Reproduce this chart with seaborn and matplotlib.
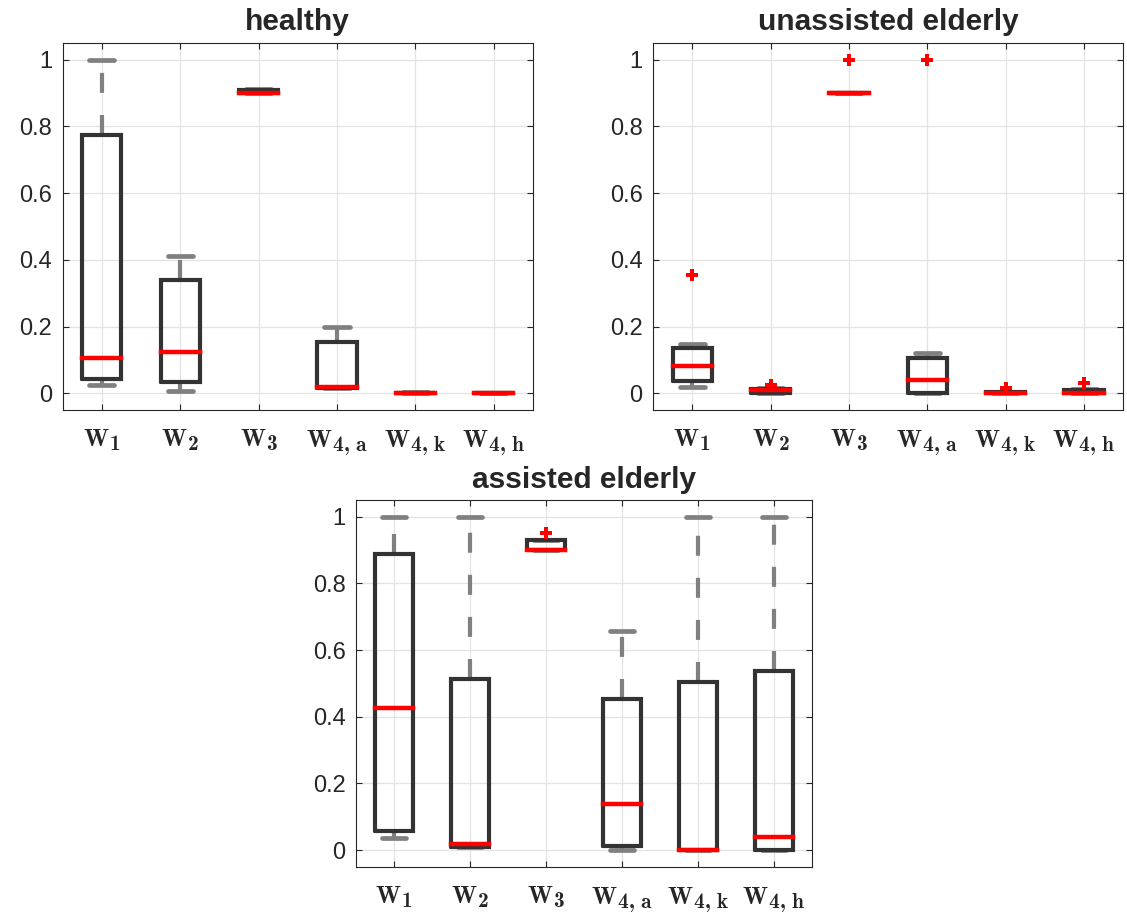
import numpy as np
import pandas as pd
import matplotlib
matplotlib.use("Agg")
import matplotlib.pyplot as plt
import matplotlib._mathtext as _mt
import seaborn as sns

# ---------------- data ----------------
categories = ["W1", "W2", "W3", "W4a", "W4k", "W4h"]
tick_labels = [r"$\mathbf{W}_{\mathbf{1}}$", r"$\mathbf{W}_{\mathbf{2}}$",
               r"$\mathbf{W}_{\mathbf{3}}$", r"$\mathbf{W}_{\mathbf{4,\,a}}$",
               r"$\mathbf{W}_{\mathbf{4,\,k}}$", r"$\mathbf{W}_{\mathbf{4,\,h}}$"]
y_ticks = [0, 0.2, 0.4, 0.6, 0.8, 1]
y_tick_labels = ["0", "0.2", "0.4", "0.6", "0.8", "1"]

# healthy: whisker low, q1, median, q3, whisker high
healthy_lo = [0.024, 0.006, 0.900, 0.017, 0.000, 0.000]
healthy_q1 = [0.044, 0.034, 0.900, 0.017, 0.000, 0.000]
healthy_med = [0.106, 0.124, 0.900, 0.020, 0.000, 0.000]
healthy_q3 = [0.775, 0.341, 0.910, 0.154, 0.002, 0.001]
healthy_hi = [1.000, 0.412, 0.912, 0.200, 0.004, 0.001]
healthy_out_cat = []
healthy_out_val = []

# unassisted elderly
unassisted_lo = [0.020, 0.000, 0.900, 0.000, 0.000, 0.000]
unassisted_q1 = [0.038, 0.002, 0.900, 0.000, 0.000, 0.000]
unassisted_med = [0.083, 0.010, 0.900, 0.040, 0.002, 0.002]
unassisted_q3 = [0.135, 0.013, 0.900, 0.105, 0.004, 0.010]
unassisted_hi = [0.148, 0.015, 0.900, 0.120, 0.005, 0.012]
unassisted_out_cat = ["W1", "W2", "W3", "W4a", "W4k", "W4h"]
unassisted_out_val = [0.354, 0.025, 1.000, 1.000, 0.016, 0.030]

# assisted elderly
assisted_lo = [0.037, 0.008, 0.900, 0.000, 0.000, 0.000]
assisted_q1 = [0.057, 0.010, 0.900, 0.012, 0.000, 0.000]
assisted_med = [0.426, 0.019, 0.901, 0.137, 0.000, 0.040]
assisted_q3 = [0.888, 0.514, 0.930, 0.453, 0.503, 0.538]
assisted_hi = [1.000, 1.000, 0.930, 0.656, 1.000, 1.000]
assisted_out_cat = ["W3"]
assisted_out_val = [0.950]

# ---------------- style ----------------
sns.set_theme(style="ticks")
plt.rcParams["font.family"] = ["Liberation Sans", "DejaVu Sans"]
plt.rcParams["mathtext.fontset"] = "custom"
plt.rcParams["mathtext.rm"] = "cmr10"
plt.rcParams["mathtext.it"] = "cmmi10"
plt.rcParams["mathtext.bf"] = "cmb10"
plt.rcParams["axes.formatter.use_mathtext"] = False
# larger subscripts, as in the reference's LaTeX labels
_mt.SHRINK_FACTOR = 0.88

BOX_C = "#333333"
WHISK_C = "#808080"
GRID_C = "#e3e3e3"


def build_frame(lo, q1, med, q3, hi):
    rows = []
    for i, c in enumerate(categories):
        for v in (lo[i], q1[i], med[i], q3[i], hi[i]):
            rows.append({"cat": c, "val": v})
    return pd.DataFrame(rows)


def draw(ax, title, lo, q1, med, q3, hi, out_cat, out_val):
    df = build_frame(lo, q1, med, q3, hi)
    sns.boxplot(data=df, x="cat", y="val", order=categories, ax=ax,
                whis=(0, 100), width=0.5, fill=False, color=BOX_C,
                saturation=1, linewidth=3, showfliers=False,
                capwidths=0.32,
                boxprops=dict(linewidth=3, solid_joinstyle="miter", zorder=3),
                medianprops=dict(color="red", linewidth=3.2,
                                 solid_capstyle="projecting", zorder=4),
                whiskerprops=dict(color=WHISK_C, linewidth=3,
                                  linestyle=(0, (4.8, 5.3)), zorder=2),
                capprops=dict(color=WHISK_C, linewidth=3.4, zorder=2))
    if out_cat:
        odf = pd.DataFrame({"cat": out_cat, "val": out_val})
        sns.stripplot(data=odf, x="cat", y="val", order=categories, ax=ax,
                      jitter=False, marker="P", color="red", size=9,
                      linewidth=0, zorder=5)
    ax.set_xlim(-0.5, 5.5)
    ax.set_ylim(-0.05, 1.05)
    ax.set_xticks(range(len(categories)))
    ax.set_xticklabels(tick_labels, fontsize=17.5)
    ax.set_yticks(y_ticks)
    ax.set_yticklabels(y_tick_labels, fontsize=17)
    ax.set_xlabel("")
    ax.set_ylabel("")
    ax.grid(True, axis="both", color=GRID_C, linewidth=0.9)
    ax.set_axisbelow(True)
    ax.tick_params(direction="in", top=True, right=True, length=4,
                   width=0.8, color="#262626", labelcolor="#262626")
    ax.tick_params(axis="x", pad=13)
    ax.tick_params(axis="y", pad=7.5)
    for s in ax.spines.values():
        s.set_visible(True)
        s.set_color("#262626")
        s.set_linewidth(0.8)
    ax.set_title(title, fontsize=21.5, fontweight="bold", pad=9)


fig = plt.figure(figsize=(11.27, 9.16), dpi=100)
ax1 = fig.add_axes([0.0556, 0.5524, 0.4173, 0.4007])
ax2 = fig.add_axes([0.5794, 0.5524, 0.4173, 0.4007])
ax3 = fig.add_axes([0.3159, 0.0538, 0.4049, 0.4003])

draw(ax1, "healthy", healthy_lo, healthy_q1, healthy_med, healthy_q3,
     healthy_hi, healthy_out_cat, healthy_out_val)
draw(ax2, "unassisted elderly", unassisted_lo, unassisted_q1, unassisted_med,
     unassisted_q3, unassisted_hi, unassisted_out_cat, unassisted_out_val)
draw(ax3, "assisted elderly", assisted_lo, assisted_q1, assisted_med,
     assisted_q3, assisted_hi, assisted_out_cat, assisted_out_val)

fig.savefig("out.png", dpi=100)
